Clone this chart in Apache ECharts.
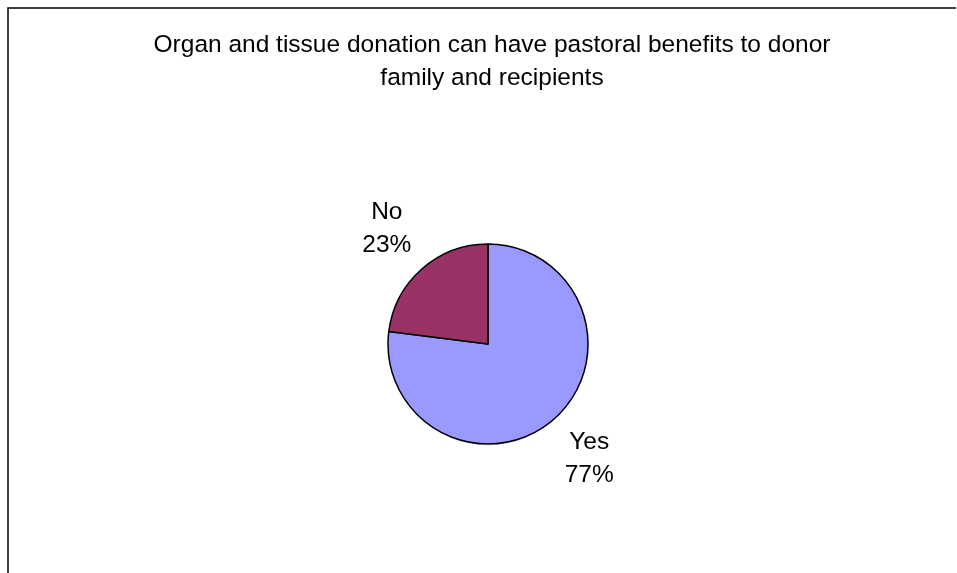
<!DOCTYPE html>
<html>
<head>
<meta charset="utf-8">
<script src="https://cdn.jsdelivr.net/npm/echarts@6/dist/echarts.min.js"></script>
<style>html,body{margin:0;padding:0;background:#fff}#c{width:957px;height:573px}</style>
</head>
<body>
<div id="c"></div>
<script>
const titleText = 'Organ and tissue donation can have pastoral benefits to donor\nfamily and recipients';
const categories = ['Yes', 'No'];
const values = [77, 23];
const colors = ['#9999FF', '#993366'];

const chart = echarts.init(document.getElementById('c'), null, {renderer: 'canvas'});
const data = categories.map((c, i) => ({name: c, value: values[i], itemStyle: {color: colors[i]}}));
const labelData = categories.map((c, i) => ({name: c, value: values[i]}));
const font = 'Liberation Sans, Arial, sans-serif';
chart.setOption({
  animation: false,
  backgroundColor: '#fff',
  title: {
    text: titleText,
    left: 487, top: 24, textAlign: 'center',
    textStyle: {fontFamily: font, fontSize: 24.5, fontWeight: 'normal', color: '#000', lineHeight: 33}
  },
  graphic: [{
    type: 'polyline', silent: true,
    shape: {points: [[8, 640], [8, 8], [956, 8]]},
    style: {stroke: '#000', lineWidth: 1.5, fill: null}
  }],
  series: [{
    type: 'pie',
    center: [488, 344],
    radius: [0, 100],
    startAngle: 90,
    clockwise: true,
    silent: true,
    label: {show: false},
    labelLine: {show: false},
    itemStyle: {borderColor: '#000', borderWidth: 1.5},
    data: data
  }, {
    type: 'pie',
    center: [488, 344],
    radius: [100, 200],
    startAngle: 90,
    clockwise: true,
    silent: true,
    itemStyle: {color: 'rgba(0,0,0,0)'},
    label: {
      show: true, position: 'inside', formatter: '{b}\n{d}%',
      fontFamily: font, fontSize: 24.5, lineHeight: 33, color: '#000'
    },
    labelLine: {show: false},
    data: labelData
  }]
});
</script>
</body>
</html>
